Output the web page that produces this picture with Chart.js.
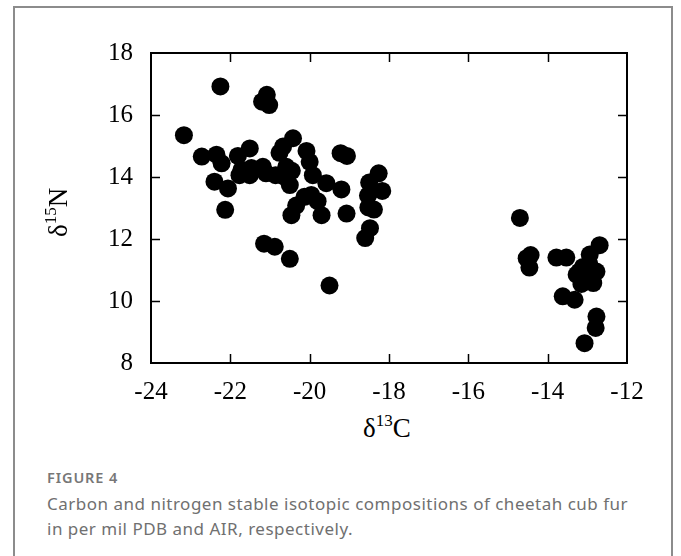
<!DOCTYPE html>
<html>
<head>
<meta charset="utf-8">
<script src="https://cdn.jsdelivr.net/npm/chart.js@4/dist/chart.umd.min.js"></script>
<style>
  body { margin: 0; background: #fff; width: 681px; height: 556px; overflow: hidden; position: relative; }
  .card { position: absolute; left: 13px; top: 6px; width: 660px; height: 600px; border: 2px solid #8c8c8c; box-sizing: border-box; }
  #chart { position: absolute; left: 0; top: 0; }
  .axis-title { position: absolute; font-family: "Liberation Serif", serif; font-size: 27px; color: #000; white-space: nowrap; line-height: 1; }
  .axis-title sup { font-size: 17px; vertical-align: 0; position: relative; top: -11px; }
  #x-title { left: 363px; top: 415px; }
  #y-title { left: 45px; top: 209px; transform-origin: 0 0; transform: rotate(-90deg) translate(-28px, 0); }
  .caption { position: absolute; left: 47px; font-family: "Noto Sans", sans-serif; color: #707070; }
  #fig-label { top: 467px; font-size: 14.5px; font-weight: 600; letter-spacing: 0.9px; color: #777; }
  #fig-text { top: 491px; font-size: 17px; letter-spacing: 0.5px; line-height: 25px; width: 585px; }
</style>
</head>
<body>
<div class="card"></div>
<canvas id="chart" width="681" height="410"></canvas>
<div class="axis-title" id="x-title">δ<sup>13</sup>C</div>
<div class="axis-title" id="y-title">δ<sup>15</sup>N</div>
<div class="caption" id="fig-label">FIGURE 4</div>
<div class="caption" id="fig-text">Carbon and nitrogen stable isotopic compositions of cheetah cub fur in per mil PDB and AIR, respectively.</div>

<script>
// δ13C (x) and δ15N (y) per fur sample
const carbon = [
    -23.17, -22.25, -21.2, -21.08, -21.02, -22.72, -22.35, -22.22, -22.4, -22.06,
    -22.13, -21.81, -21.51, -21.72, -21.47, -21.18, -21.77, -21.51, -21.1, -20.86,
    -20.76, -20.67, -20.42, -20.08, -20.0, -20.59, -20.45, -20.5, -20.63, -19.92,
    -19.58, -19.2, -19.22, -19.06, -20.13, -19.96, -19.8, -20.34, -20.46, -19.7,
    -19.07, -18.26, -18.5, -18.17, -18.53, -18.52, -18.38, -18.48, -18.6, -21.15,
    -20.88, -20.5, -19.5,
    -14.7, -14.53, -14.43, -14.46, -13.78, -13.53, -12.69, -12.94, -13.11, -12.77,
    -13.27, -13.02, -12.85, -13.15, -12.95, -13.2, -12.9, -13.62, -13.32, -12.77,
    -12.79, -13.07,
]
const nitrogen = [
    15.35, 16.92, 16.43, 16.65, 16.32, 14.66, 14.72, 14.44, 13.85, 13.63,
    12.94, 14.68, 14.92, 14.23, 14.29, 14.33, 14.06, 14.06, 14.12, 14.06,
    14.78, 14.98, 15.25, 14.84, 14.49, 14.33, 14.2, 13.74, 14.0, 14.06,
    13.8, 13.6, 14.77, 14.68, 13.36, 13.42, 13.22, 13.08, 12.77, 12.77,
    12.82, 14.12, 13.82, 13.55, 13.4, 13.02, 12.95, 12.35, 12.03, 11.85,
    11.75, 11.36, 10.5,
    12.68, 11.38, 11.48, 11.08, 11.4, 11.4, 11.8, 11.5, 11.1, 10.95,
    10.85, 10.68, 10.58, 10.55, 11.2, 10.95, 10.85, 10.15, 10.04, 9.5,
    9.13, 8.64,
]
const xTickValues = [-24, -22, -20, -18, -16, -14, -12]
const yTickValues = [8, 10, 12, 14, 16, 18]

const points = carbon.map((c, i) => ({ x: c, y: nitrogen[i] }))

// frame round the plot with inward ticks on all four sides
const framePlugin = {
    id: "frame",
    afterDraw(chart) {
        const { ctx, chartArea, scales } = chart
        const tick = 9
        ctx.save()
        ctx.strokeStyle = "#000"
        ctx.lineWidth = 1.5
        ctx.beginPath()
        for (const v of xTickValues.slice(1, -1)) {
            const px = Math.round(scales.x.getPixelForValue(v)) + 0.5
            ctx.moveTo(px, chartArea.bottom)
            ctx.lineTo(px, chartArea.bottom - tick)
            ctx.moveTo(px, chartArea.top)
            ctx.lineTo(px, chartArea.top + tick)
        }
        for (const v of yTickValues.slice(1, -1)) {
            const py = Math.round(scales.y.getPixelForValue(v)) + 0.5
            ctx.moveTo(chartArea.left, py)
            ctx.lineTo(chartArea.left + tick, py)
            ctx.moveTo(chartArea.right, py)
            ctx.lineTo(chartArea.right - tick, py)
        }
        ctx.stroke()
        ctx.lineWidth = 2
        ctx.strokeRect(chartArea.left, chartArea.top, chartArea.right - chartArea.left, chartArea.bottom - chartArea.top)
        ctx.restore()
    },
}

const tickFont = { family: "'Liberation Serif', serif", size: 25 }

new Chart(document.getElementById("chart"), {
    type: "scatter",
    data: {
        datasets: [
            {
                data: points,
                backgroundColor: "#000",
                borderWidth: 0,
                pointRadius: 9,
                pointHoverRadius: 9,
            },
        ],
    },
    options: {
        responsive: false,
        animation: false,
        clip: false,
        layout: { padding: { top: 53, right: 54, left: 0, bottom: 0 } },
        plugins: { legend: { display: false }, tooltip: { enabled: false } },
        scales: {
            x: {
                type: "linear",
                min: -24,
                max: -12,
                grid: { display: false, drawTicks: false },
                border: { display: false },
                afterBuildTicks: (scale) => { scale.ticks = xTickValues.map((v) => ({ value: v })) },
                afterFit: (scale) => { scale.height = 47 },
                ticks: { font: tickFont, color: "#000", padding: 14, maxRotation: 0 },
            },
            y: {
                type: "linear",
                min: 8,
                max: 18,
                grid: { display: false, drawTicks: false },
                border: { display: false },
                afterBuildTicks: (scale) => { scale.ticks = yTickValues.map((v) => ({ value: v })) },
                afterFit: (scale) => { scale.width = 151 },
                ticks: { font: tickFont, color: "#000", padding: 18 },
            },
        },
    },
    plugins: [framePlugin],
})
</script>
</body>
</html>
